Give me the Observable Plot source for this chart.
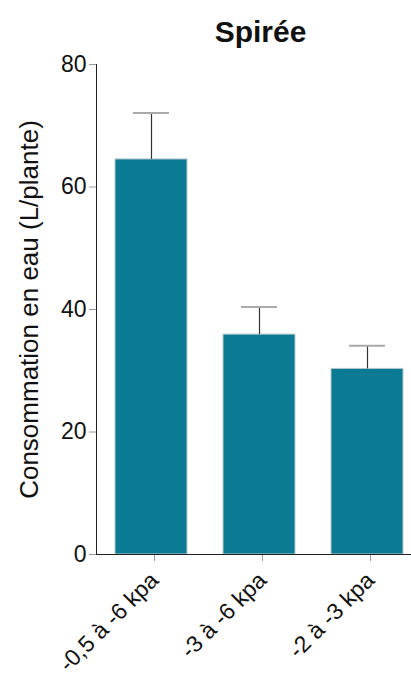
<!DOCTYPE html>
<html><head><meta charset="utf-8">
<script src="https://cdn.jsdelivr.net/npm/d3@7"></script>
<script src="https://cdn.jsdelivr.net/npm/@observablehq/plot@0.6"></script>
<style>
body{margin:0;background:#fff;}
</style>
</head><body>
<div id="chart"></div>
<script>
const categories = ["-0,5 à -6 kpa", "-3 à -6 kpa", "-2 à -3 kpa"];
const means = [64.5, 35.9, 30.3];
const errors = [7.6, 4.5, 3.8];
const yTicks = [0, 20, 40, 60, 80];
const title = "Spirée";
const yLabel = "Consommation en eau (L/plante)";

const data = categories.map((c, i) => ({cat: c, mean: means[i], top: means[i] + errors[i]}));

const chart = Plot.plot({
  width: 411,
  height: 678,
  marginLeft: 96,
  marginRight: 0,
  marginTop: 64,
  marginBottom: 124,
  style: {fontFamily: "'Liberation Sans', Arial, sans-serif", background: "white", color: "#111"},
  x: {domain: categories, paddingInner: 0.336, paddingOuter: 0.12, align: 0.69},
  y: {domain: [0, 80]},
  marks: [
    Plot.barY(data, {x: "cat", y: "mean", fill: "#0a7b93", stroke: "#b9c9cd", strokeWidth: 1}),
    Plot.ruleX(data, {x: "cat", y1: "mean", y2: "top", stroke: "#333", strokeWidth: 1.2}),
    Plot.tickY(data, {x: "cat", y: "top", stroke: "#aaa", strokeWidth: 2, insetLeft: 18, insetRight: 18}),
    Plot.axisY({ticks: yTicks, tickSize: 7, tickPadding: 3, fontSize: 23, stroke: "#999", fill: "#111", label: null}),
    Plot.axisX({tickSize: 7, tickRotate: -45, tickPadding: 15, dx: 3, fontSize: 23, stroke: "#999", fill: "#111", label: null}),
    Plot.frame({anchor: "left", stroke: "#222"}),
    Plot.ruleY([0], {stroke: "#222"}),
    Plot.text([yLabel], {frameAnchor: "left", textAnchor: "middle", rotate: -90, dx: -67, fontSize: 26, fill: "#111"}),
    Plot.text([title], {frameAnchor: "top", dy: -44, dx: 6.5, fontSize: 30, fontWeight: "bold", fill: "#111"})
  ]
});
document.getElementById("chart").appendChild(chart);
</script>
</body></html>
